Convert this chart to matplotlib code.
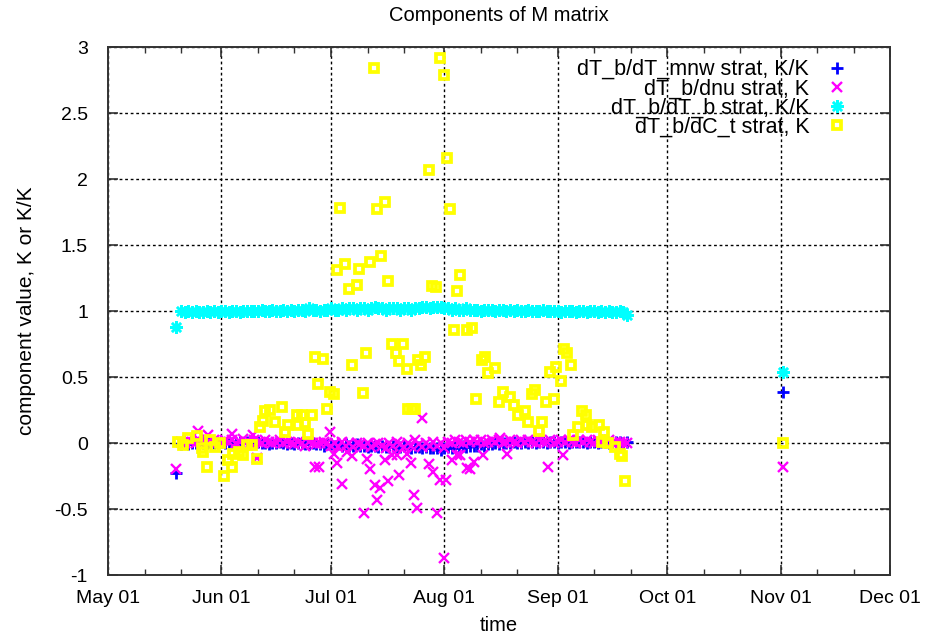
import datetime as dt
import numpy as np
import matplotlib.pyplot as plt
import matplotlib.dates as mdates

plt.rcParams['font.family'] = ['Liberation Sans', 'DejaVu Sans']

# days counted from May 01
start = dt.datetime(2010, 5, 1)
first_day = 18.6
nov_day = 184.6
daily = np.arange(20, 143)

# dT_b/dT_b strat, K/K (cyan)
cyan_first = 0.88
cyan_daily = [
    1.00, 0.99, 1.00, 0.99, 1.00, 0.99, 0.99, 1.00, 0.99, 1.00,
    0.99, 1.00, 1.00, 0.99, 1.00, 1.00, 0.99, 1.00, 1.00, 1.00,
    1.00, 1.00, 1.01, 1.00, 1.00, 1.01, 1.00, 1.00, 1.01, 1.00,
    1.01, 1.00, 1.01, 1.01, 1.00, 1.02, 1.01, 1.01, 1.00, 1.01,
    1.01, 1.02, 1.01, 1.01, 1.02, 1.01, 1.02, 1.02, 1.01, 1.02,
    1.02, 1.01, 1.02, 1.03, 1.02, 1.02, 1.01, 1.02, 1.02, 1.02,
    1.01, 1.02, 1.02, 1.01, 1.02, 1.02, 1.03, 1.03, 1.02, 1.03,
    1.03, 1.03, 1.02, 1.02, 1.01, 1.02, 1.01, 1.01, 1.02, 1.01,
    1.01, 1.01, 1.00, 1.01, 1.01, 1.01, 1.00, 1.01, 1.01, 1.00,
    1.01, 1.00, 1.01, 1.00, 1.00, 1.01, 1.00, 1.00, 1.00, 1.01,
    1.00, 1.00, 1.00, 1.00, 0.99, 1.00, 1.00, 1.00, 0.99, 1.00,
    1.00, 0.99, 1.00, 1.00, 0.99, 1.00, 0.99, 1.00, 0.99, 0.99,
    1.00, 0.99, 0.97,
]
cyan_nov = 0.54

# dT_b/dT_mnw strat, K/K (blue)
blue_first = -0.23
blue_daily = [
    -0.01, 0.00, -0.01, 0.00, 0.00, -0.01, 0.00, 0.00, 0.01, 0.00,
    0.00, 0.01, 0.00, 0.01, 0.00, 0.00, 0.01, 0.00, 0.01, 0.00,
    0.00, 0.01, 0.00, 0.00, -0.01, 0.00, 0.00, 0.01, 0.00, -0.01,
    0.00, -0.01, 0.00, 0.00, -0.01, -0.01, 0.00, -0.01, -0.01, -0.02,
    -0.01, -0.01, -0.02, -0.01, -0.02, -0.01, -0.02, -0.02, -0.01, -0.02,
    -0.02, -0.03, -0.02, -0.02, -0.03, -0.02, -0.03, -0.03, -0.02, -0.03,
    -0.03, -0.02, -0.03, -0.04, -0.03, -0.03, -0.04, -0.03, -0.04, -0.04,
    -0.04, -0.05, -0.04, -0.03, -0.04, -0.03, -0.03, -0.02, -0.03, -0.02,
    -0.02, -0.02, -0.01, -0.02, -0.01, -0.01, 0.00, -0.01, 0.00, 0.00,
    0.00, 0.01, 0.00, 0.00, 0.01, 0.00, 0.01, 0.00, 0.01, 0.01,
    0.00, 0.01, 0.01, 0.00, 0.01, 0.01, 0.00, 0.01, 0.01, 0.01,
    0.01, 0.00, 0.01, 0.01, 0.00, 0.01, 0.01, 0.00, 0.01, 0.01,
    0.01, 0.00, 0.01,
]
blue_nov = 0.39

# dT_b/dnu strat, K (magenta): daily core plus scattered points
mag_daily = [
    0.01, 0.00, 0.02, 0.01, 0.00, 0.02, 0.01, 0.00, 0.01, 0.02,
    0.01, 0.00, 0.02, 0.01, 0.02, 0.00, 0.01, 0.03, 0.01, 0.00,
    0.02, 0.01, 0.00, 0.02, 0.01, 0.00, 0.01, 0.02, 0.00, 0.01,
    0.00, -0.01, 0.01, 0.00, -0.02, 0.01, 0.00, -0.01, 0.00, 0.01,
    0.00, -0.02, 0.00, -0.03, 0.01, -0.02, 0.00, -0.03, 0.00, -0.01,
    -0.02, 0.00, -0.03, -0.01, 0.00, -0.02, -0.04, 0.00, -0.02, 0.01,
    -0.01, -0.03, 0.00, -0.02, 0.02, -0.01, -0.03, 0.00, -0.02, 0.01,
    -0.02, 0.00, -0.04, 0.01, 0.00, 0.02, 0.01, 0.00, 0.02, 0.01,
    0.02, 0.01, 0.02, 0.00, 0.01, 0.02, 0.01, 0.02, 0.00, 0.01,
    0.02, 0.01, 0.00, 0.02, 0.01, 0.02, 0.01, 0.00, 0.02, 0.01,
    0.01, 0.02, 0.00, 0.01, 0.02, 0.01, 0.02, 0.01, 0.00, 0.02,
    0.01, 0.02, 0.01, 0.00, 0.02, 0.01, 0.01, 0.02, 0.00, 0.01,
    0.01, 0.00, 0.00,
]
mag_extra_days = [
    18.6, 24.7, 27.4, 33.9, 39.8, 40.8, 56.6, 57.8, 60.8, 61.7,
    62.6, 64.0, 65.3, 66.7, 69.9, 70.8, 71.7, 73.1, 73.7, 74.4,
    75.8, 76.7, 77.6, 79.0, 79.7, 81.7, 82.8, 83.7, 84.6, 85.8,
    87.7, 89.0, 90.0, 90.7, 92.0, 92.5, 94.1, 95.4, 96.3, 98.2,
    99.1, 100.0, 102.7, 107.3, 109.1, 120.5, 124.6, 184.6,
]
mag_extra_vals = [
    -0.20, 0.09, 0.06, 0.07, 0.06, -0.11, -0.18, -0.18, 0.08, -0.08,
    -0.15, -0.31, -0.07, -0.10, -0.53, -0.12, -0.20, -0.32, -0.43, -0.34,
    -0.13, -0.29, -0.09, -0.09, -0.24, -0.08, -0.15, -0.39, -0.49, 0.19,
    -0.16, -0.22, -0.53, -0.28, -0.87, -0.28, -0.13, -0.09, -0.09, -0.19,
    -0.20, -0.14, -0.09, 0.035, -0.08, -0.18, -0.09, -0.18,
]

# dT_b/dC_t strat, K (yellow)
yel_days = [
    19.2, 20.6, 22.0, 24.3, 25.6, 26.1, 27.0, 27.9, 29.3, 30.7,
    31.6, 32.9, 33.9, 34.3, 35.7, 37.0, 38.0, 39.3, 40.7, 41.6,
    42.5, 43.0, 44.3, 45.7, 47.5, 48.4, 49.3, 51.6, 51.9, 53.0,
    53.9, 54.8, 55.7, 56.6, 57.5, 58.8, 59.9, 60.8, 61.7, 62.7,
    63.5, 64.8, 66.0, 66.7, 68.0, 68.8, 69.7, 70.6, 71.7, 72.8,
    73.5, 74.7, 75.8, 76.7, 77.6, 78.8, 79.6, 80.8, 81.7, 82.1,
    83.1, 84.0, 84.9, 85.6, 86.8, 87.7, 88.6, 89.8, 90.9, 91.8,
    92.7, 93.6, 94.7, 95.4, 96.3, 98.2, 99.5, 100.7, 102.3, 103.2,
    104.1, 105.9, 107.1, 108.2, 110.0, 111.1, 112.3, 114.1, 114.8, 116.0,
    116.9, 117.8, 118.7, 119.9, 120.8, 121.9, 122.6, 123.9, 124.8, 125.7,
    126.7, 127.3, 128.7, 129.6, 130.7, 131.0, 132.4, 134.2, 135.1, 135.6,
    136.9, 138.8, 140.1, 140.6, 141.5, 184.6,
]
yel_vals = [
    0.01, -0.015, 0.035, 0.05, -0.04, -0.07, -0.18, 0.02, -0.03, 0.00,
    -0.25, -0.13, -0.18, -0.08, -0.07, -0.09, -0.015, -0.015, -0.12, 0.12,
    0.17, 0.24, 0.25, 0.16, 0.27, 0.085, 0.14, 0.21, 0.14, 0.21,
    0.15, 0.07, 0.21, 0.65, 0.45, 0.64, 0.26, 0.39, 0.37, 1.31,
    1.78, 1.36, 1.17, 0.59, 1.20, 1.32, 0.38, 0.68, 1.37, 2.84,
    1.77, 1.42, 1.83, 1.23, 0.75, 0.68, 0.62, 0.75, 0.56, 0.26,
    0.26, 0.26, 0.63, 0.59, 0.65, 2.07, 1.19, 1.18, 2.92, 2.79,
    2.16, 1.77, 0.86, 1.15, 1.27, 0.86, 0.87, 0.33, 0.63, 0.65,
    0.53, 0.57, 0.31, 0.39, 0.35, 0.29, 0.21, 0.24, 0.16, 0.37,
    0.40, 0.09, 0.16, 0.31, 0.54, 0.33, 0.58, 0.47, 0.71, 0.68,
    0.59, 0.06, 0.12, 0.24, 0.21, 0.14, 0.12, 0.14, 0.01, 0.085,
    0.00, -0.03, -0.08, -0.10, -0.29, 0.00,
]


def to_dates(days):
    return [start + dt.timedelta(days=float(d)) for d in days]


main_days = [first_day] + list(daily) + [nov_day]

fig = plt.figure(figsize=(9.37, 6.37), dpi=100)
ax = fig.add_axes([0.1153, 0.0973, 0.8347, 0.8287])

ax.plot(to_dates(main_days), [blue_first] + blue_daily + [blue_nov],
        ls='none', marker='+', ms=9, mew=2.0, color='#0000ff',
        label='dT_b/dT_mnw strat, K/K')
ax.plot(to_dates(list(daily) + mag_extra_days), mag_daily + mag_extra_vals,
        ls='none', marker='x', ms=7.5, mew=1.7, color='#ff00ff',
        label='dT_b/dnu strat, K')
ax.plot(to_dates(main_days), [cyan_first] + cyan_daily + [cyan_nov],
        ls='none', marker=(8, 2, 0), ms=9, mew=1.8, color='#00ffff',
        label='dT_b/dT_b strat, K/K')
ax.plot(to_dates(yel_days), yel_vals,
        ls='none', marker='s', ms=6.2, mew=2.7, mfc='none', mec='#ffff00',
        label='dT_b/dC_t strat, K')

ax.set_xlim(start, dt.datetime(2010, 12, 1))
ax.set_ylim(-1, 3)
ax.set_yticks(np.arange(-1, 3.01, 0.5))
ax.set_yticklabels(['-1', '-0.5', '0', '0.5', '1', '1.5', '2', '2.5', '3'])
ax.xaxis.set_major_locator(mdates.MonthLocator())
ax.xaxis.set_minor_locator(mdates.DayLocator(bymonthday=[11, 21]))
ax.xaxis.set_major_formatter(mdates.DateFormatter('%b %d'))

ax.tick_params(which='both', direction='in', top=True, right=True,
               labelsize=14, colors='#333333', labelcolor='black')
ax.tick_params(which='major', length=7, width=1.2)
ax.tick_params(which='minor', length=4, width=1.0)
ax.tick_params(axis='x', which='major', pad=11)
ax.tick_params(axis='y', which='major', pad=14.5)
ax.grid(True, which='major', color='black', ls=(0, (2, 2)), lw=1.0)
for s in ax.spines.values():
    s.set_color('#333333')
    s.set_linewidth(1.4)

ax.set_xlabel('time', fontsize=14.5, labelpad=6)
ax.set_ylabel('component value, K or K/K', fontsize=15, labelpad=13)
fig.text(0.532, 0.976, 'Components of M matrix', ha='center', va='center',
         fontsize=14.5)

ax.legend(loc='upper right', frameon=False, markerfirst=False, fontsize=15.5,
          handlelength=1.2, handletextpad=0.7, labelspacing=-0.08,
          borderaxespad=0.3, bbox_to_anchor=(0.968, 1.006))

fig.savefig('out.png', dpi=100)
